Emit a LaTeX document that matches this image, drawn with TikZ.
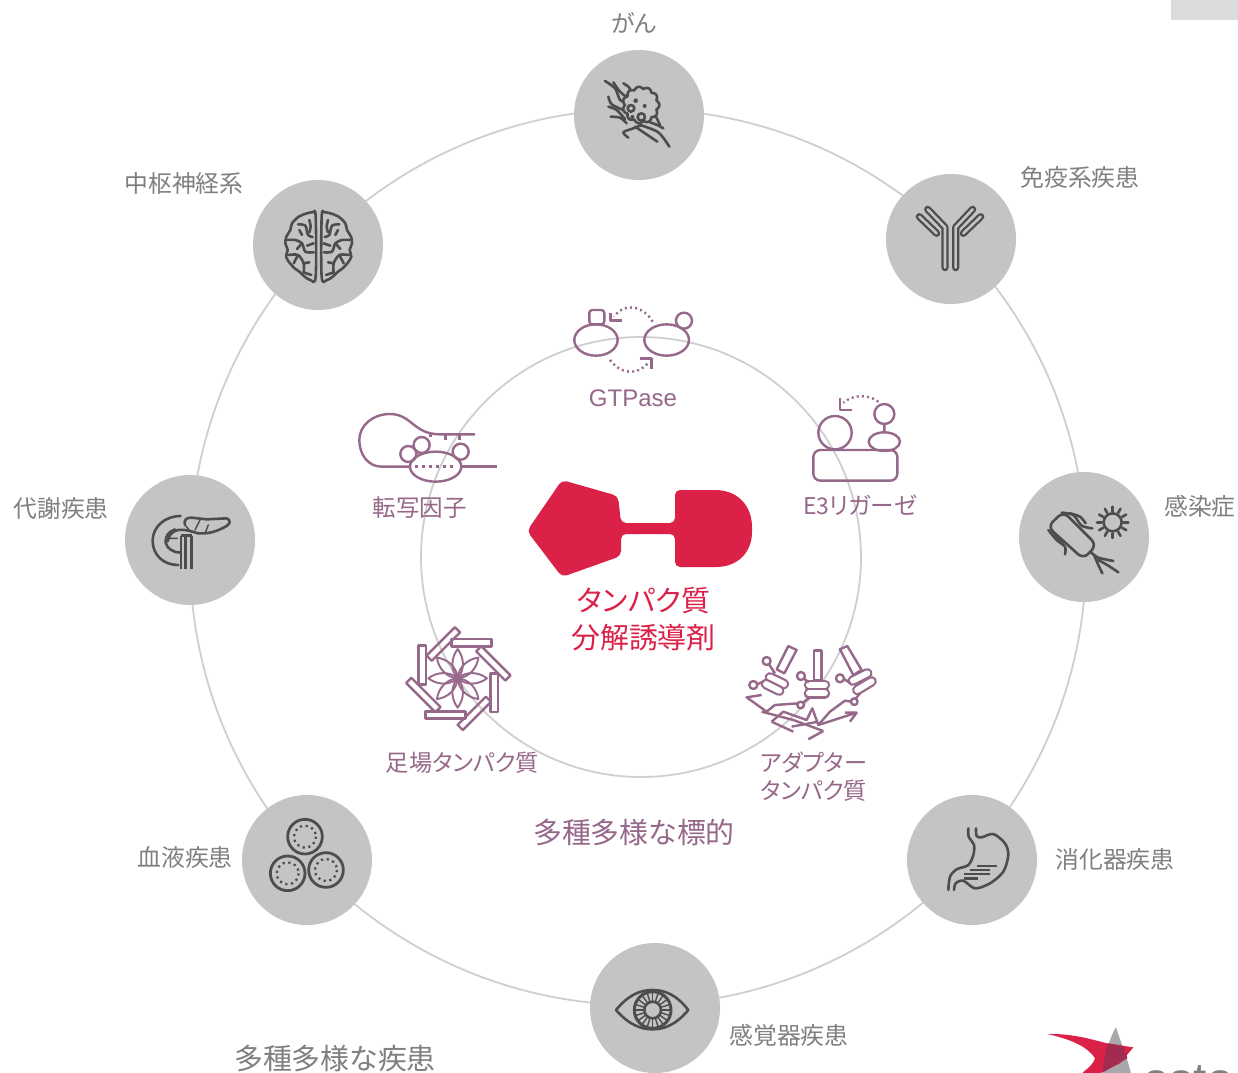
\documentclass[tikz,border=0pt]{standalone}
\usepackage{fontspec}
\setmainfont{Liberation Sans}
\newfontfamily\jp[RawFeature=+palt]{Noto Sans CJK JP}
\definecolor{discgray}{HTML}{C4C4C4}
\definecolor{ring}{HTML}{CFCFCF}
\definecolor{icodark}{HTML}{4D4D4D}
\definecolor{txtgray}{HTML}{808080}
\definecolor{plum}{HTML}{96688A}
\definecolor{crim}{HTML}{DC2148}
\definecolor{logogray}{HTML}{A6A8AB}
\definecolor{logodark}{HTML}{A42B50}
\newcommand{\fs}[1]{\fontsize{#1}{#1}\selectfont}
\newcommand{\tube}[1]{\draw[icodark,line width=7.2pt,line cap=round,line join=round] #1;\draw[discgray,line width=2.6pt,line cap=round,line join=round] #1;}
\newcommand{\capsule}[1]{\draw[plum,line width=10.5pt,line cap=round] #1;\draw[white,line width=6pt,line cap=round] #1;}
\tikzset{
  discnode/.style={circle,fill=discgray,minimum size=130pt,inner sep=0pt},
  zoomat/.style 2 args={xshift=#1pt,yshift=-#2pt,x=0.3333pt,y=-0.3333pt},
  ico/.style={draw=icodark,line width=2.6pt,line cap=round,line join=round},
  tgt/.style={draw=plum,line width=2.4pt,line join=round},
  dots/.style={draw=plum,line width=2.4pt,dash pattern=on 2pt off 3.2pt},
  lab/.style={text=txtgray,font=\jp\fs{23.8},inner sep=0pt},
  tlab/.style={text=plum,font=\jp\fs{23.5},inner sep=0pt,align=center},
  big/.style={font=\jp\fs{28.9},inner sep=0pt},
}
\begin{document}
\begin{tikzpicture}[x=1pt,y=-1pt]
\path[use as bounding box] (0,0) rectangle (1238,1072);
\clip (0,0) rectangle (1238,1072);
\fill[white] (0,0) rectangle (1238,1072);
\fill[black!14] (1171,0) rectangle (1238,20);
% rings
\draw[ring,line width=1.8pt] (638,557) circle (448);
\draw[ring,line width=1.8pt] (641,557) circle (220);
% discs
\node[discnode] (cancer) at (639,115) {};
\node[discnode] (immune) at (951,239) {};
\node[discnode] (infect) at (1084,537) {};
\node[discnode] (digest) at (972,860) {};
\node[discnode] (sense) at (655,1008) {};
\node[discnode] (blood) at (307,860) {};
\node[discnode] (metab) at (190,540) {};
\node[discnode] (cns) at (318,245) {};
% labels
\node[lab] (l1) at (634,23) {がん};
\node[lab] (l2) at (1080,177) {免疫系疾患};
\node[lab] (l3) at (1200,506) {感染症};
\node[lab] (l4) at (1115,859) {消化器疾患};
\node[lab] (l5) at (789,1035) {感覚器疾患};
\node[lab] (l6) at (185,857) {血液疾患};
\node[lab] (l7) at (61,508) {代謝疾患};
\node[lab] (l8) at (184,183) {中枢神経系};
\node[big,text=txtgray] (l9) at (335,1058.5) {多種多様な疾患};
\node[big,text=plum] (t0) at (634,832.5) {多種多様な標的};
\node[text=plum,font=\fs{24},inner sep=0pt] (t1) at (633,398) {GTPase};
\node[tlab] (t2) at (860,505) {{\fs{23}E3}リガーゼ};
\node[tlab] (t3) at (419.5,508) {転写因子};
\node[tlab,font=\jp\fs{23.2}] (t4) at (462.5,763) {足場タンパク質};
\node[tlab,font=\jp\fs{23.2}] (t5) at (813.5,777) {アダプター\\[5pt]タンパク質};
\node[text=crim,font=\jp\fs{28.9},inner sep=0pt,align=center] (drug) at (643.5,619) {タンパク質\\[8pt]分解誘導剤};
% central molecule
\fill[crim,rounded corners=5pt] (527,531) -- (562,480) -- (618,496) -- (621,523) -- (640,523) -- (640,534) -- (621,534) -- (621,556) -- (562,577) -- cycle;
\fill[crim,rounded corners=5pt] (630,523) -- (675,523) -- (675,510) -- (675,490) -- (700,490) -- (700,567) -- (675,567) -- (675,534) -- (630,534) -- cycle;
\fill[crim] (695,490) -- (715,490) .. controls (738,490) and (752,506) .. (752,527) -- (752,532) .. controls (752,552) and (738,567) .. (716,567) -- (695,567) -- cycle;
% cancer icon
\begin{scope}[zoomat={570}{45}]
\draw[ico] plot[smooth] coordinates {(105,108) (135,130) (150,165) (165,172)};
\draw[ico] plot[smooth] coordinates {(130,112) (150,140) (172,158)};
\draw[ico] plot[smooth] coordinates {(160,115) (175,125) (185,140)};
\draw[ico] plot[smooth] coordinates {(115,155) (125,178) (160,195)};
\draw[ico] plot[smooth] coordinates {(115,185) (140,195) (165,222)};
\draw[ico] plot[smooth] coordinates {(122,215) (150,218) (170,235)};
\draw[ico] plot[smooth] coordinates {(175,278) (160,262) (190,250) (215,240)};
\draw[ico] plot[smooth] coordinates {(195,245) (225,265) (262,290)};
\draw[ico] plot[smooth] coordinates {(210,240) (265,262) (298,305)};
\draw[ico] plot[smooth] coordinates {(240,232) (262,240) (280,250)};
\draw[ico] plot[smooth] coordinates {(258,215) (270,240)};
\draw[ico,fill=discgray] plot[domain=0:360,samples=133,smooth] ({213+(48+7*abs(cos(5.5*\x)))*cos(\x)},{180+(48+7*abs(cos(5.5*\x)))*sin(\x)});
\draw[ico] (183,190) circle (10) (214,216) circle (11);
\fill[icodark] (197,167) circle (7) (224,183) circle (6) (187,216) circle (6);
\end{scope}
% antibody icon
\begin{scope}[zoomat={880}{170}]
\tube{(195,293)--(195,172)--(143,118)}
\tube{(227,293)--(227,172)--(278,118)}
\tube{(118,140)--(170,190)}
\tube{(302,140)--(250,190)}
\end{scope}
% bacterium icon
\begin{scope}[zoomat={1015}{465}]
\draw[ico,rounded corners=7pt] (98,185) -- (145,140) -- (245,240) -- (205,282) -- cycle;
\draw[ico] plot[smooth] coordinates {(140,143) (175,150) (200,182) (232,190)};
\draw[ico] plot[smooth] coordinates {(165,145) (195,155) (212,175)};
\draw[ico] plot[smooth] coordinates {(100,195) (125,225) (150,245) (150,268)};
\draw[ico] plot[smooth] coordinates {(112,198) (130,220) (145,232)};
\draw[ico] plot[smooth] coordinates {(228,262) (250,278) (295,288)};
\draw[ico] plot[smooth] coordinates {(238,272) (250,300) (262,325)};
\draw[ico] plot[smooth] coordinates {(250,285) (280,302) (310,322)};
\draw[ico] (293,172) circle (27);
\foreach \a in {0,30,...,330}{\draw[ico] ({293+33*cos(\a)},{172+33*sin(\a)}) -- ({293+47*cos(\a)},{172+47*sin(\a)});}
\end{scope}
% stomach icon
\begin{scope}[zoomat={900}{790}]
\draw[ico] plot[smooth] coordinates {(205,115) (206,140) (222,165) (220,195) (205,225) (170,238) (150,260) (145,300)};
\draw[ico] plot[smooth] coordinates {(228,115) (230,138) (245,142) (280,132) (315,160) (325,195) (310,245) (270,280) (225,295) (190,272) (167,280) (162,300)};
\draw[ico,line cap=butt] (230,228) -- (290,228) (210,240) -- (270,240) (192,252) -- (270,252) (192,265) -- (235,265);
\end{scope}
% eye icon
\begin{scope}[zoomat={585}{940}]
\draw[ico] (93,210) .. controls (130,165) and (165,150) .. (203,150) .. controls (240,150) and (275,165) .. (310,210) .. controls (275,252) and (240,268) .. (203,268) .. controls (165,268) and (130,252) .. (93,210) -- cycle;
\draw[ico,line width=3pt] (203,210) circle (55);
\draw[ico] (203,210) circle (25);
\foreach \a in {0,18,...,342}{\draw[icodark,line width=1.4pt] ({203+25*cos(\a)},{210+25*sin(\a)}) -- ({203+52*cos(\a)},{210+52*sin(\a)});}
\end{scope}
% blood icon
\begin{scope}[zoomat={235}{790}]
\foreach \cx/\cy in {210/140,158/250,273/240}{
  \draw[ico,line width=2.8pt] (\cx,\cy) circle (52);
  \draw[icodark,line width=2.3pt,dash pattern=on 2.2pt off 3.6pt] (\cx,\cy) circle (33);}
\end{scope}
% pancreas icon
\begin{scope}[zoomat={120}{470}]
\draw[ico] (182,138) .. controls (135,138) and (98,170) .. (98,212) .. controls (98,255) and (130,285) .. (175,285);
\draw[ico] (165,178) .. controls (145,185) and (135,200) .. (137,218) .. controls (140,235) and (160,248) .. (182,248);
\draw[ico] (195,165) .. controls (190,150) and (200,142) .. (215,143) -- (260,148) -- (320,145) .. controls (332,150) and (332,160) .. (320,168) .. controls (290,185) and (265,192) .. (235,190) .. controls (200,180) and (170,170) .. (150,195) -- (142,215);
\draw[ico,line width=1.5pt] (195,165) -- (212,185) (240,150) -- (225,180) (265,165) -- (255,190) (150,205) -- (172,205);
\draw[ico,line cap=butt] (183,197) -- (183,298) (197,197) -- (197,298) (215,197) -- (215,298) (183,197) -- (215,197);
\end{scope}
% brain icon
\begin{scope}[zoomat={318.67}{175}]
\foreach \s in {1,-1}{
\begin{scope}[xscale=\s]
\draw[ico] plot[smooth cycle,tension=0.55] coordinates {(9,125) (18,112) (45,118) (60,125) (80,145) (85,165) (97,185) (100,205) (93,225) (98,245) (86,265) (72,280) (58,290) (42,305) (25,315) (9,305)};
\draw[ico] plot[smooth] coordinates {(28,135) (24,155) (28,172)};
\draw[ico] plot[smooth] coordinates {(62,148) (40,152) (32,180) (18,186)};
\draw[ico] (58,165) -- (50,180);
\draw[ico] plot[smooth] coordinates {(95,195) (70,195) (50,205) (40,230) (15,232)};
\draw[ico] (65,222) -- (50,205) (15,205) -- (35,212);
\draw[ico] plot[smooth] coordinates {(92,240) (62,240) (45,265) (45,292)};
\draw[ico] (75,265) -- (62,240) (28,262) -- (45,265) (22,300) -- (45,292);
\end{scope}}
\end{scope}
% GTPase icon
\begin{scope}[zoomat={340}{290}]
\draw[tgt] (768,150) ellipse (65 and 47);
\draw[tgt,rounded corners=3pt] (748,60) rectangle (793,103);
\draw[tgt] (980,150) ellipse (67 and 47);
\draw[tgt] (1032,92) circle (24);
\draw[dots] (938,95) .. controls (915,55) and (860,30) .. (822,80);
\draw[tgt] (812,70) -- (812,92) -- (845,92);
\draw[dots] (810,210) .. controls (840,250) and (890,260) .. (925,218);
\draw[tgt] (900,205) -- (935,205) -- (935,238);
\end{scope}
% transcription factor icon
\begin{scope}[zoomat={340}{290}]
\draw[tgt] (470,530) -- (360,530);
\draw[tgt] (212,530) -- (125,530) .. controls (85,530) and (58,495) .. (58,450) .. controls (58,405) and (100,372) .. (150,372) .. controls (215,372) and (220,433) .. (300,433) -- (405,433);
\draw[tgt] (272,433) -- (272,442) (316,433) -- (316,450) (358,433) -- (358,450);
\draw[tgt] (287,530) ellipse (77 and 45);
\draw[draw=plum,line width=2.4pt,dash pattern=on 3pt off 4pt] (225,530) -- (350,530);
\draw[tgt] (205,492) circle (24) (245,465) circle (24) (362,485) circle (24);
\end{scope}
% E3 icon
\begin{scope}[zoomat={790}{390}]
\draw[tgt,rounded corners=7pt] (70,180) rectangle (322,272);
\draw[tgt] (135,128) circle (50) (283,72) circle (30) (283,102) -- (283,125) (283,155) ellipse (47 and 28);
\draw[dots] (265,35) .. controls (240,15) and (195,10) .. (160,38);
\draw[tgt] (150,25) -- (150,60) -- (185,60);
\end{scope}
% scaffold icon
\begin{scope}[zoomat={380}{610}]
\foreach \a in {0,45,...,315}{\draw[tgt,line width=1.9pt,rotate around={\a:(233,205)}] (233,205) .. controls (258,183) and (295,185) .. (321,205) .. controls (295,225) and (258,227) .. (233,205) -- cycle;}
\fill[plum] (233,205) circle (12);
\foreach \cx/\cy/\w/\h/\a in {275/98/60/11/0,190/102/60/11/45,127/165/11/58/0,130/255/62/11/-45,197/315/60/11/0,283/310/60/11/45,343/248/11/58/0,340/160/62/11/-45}{
  \draw[tgt,rotate around={\a:(\cx,\cy)}] ({\cx-\w},{\cy-\h}) rectangle ({\cx+\w},{\cy+\h});}
\end{scope}
% adapter icon
\begin{scope}[zoomat={380}{610}]
\draw[tgt] (1225,108) -- (1250,120) -- (1213,190) -- (1190,178) -- cycle;
\draw[tgt] (1302,122) rectangle (1325,210);
\draw[tgt] (1380,118) -- (1402,108) -- (1445,180) -- (1420,195) -- cycle;
\capsule{(1170,202)--(1212,222)}
\capsule{(1158,222)--(1198,242)}
\capsule{(1287,225)--(1335,225)}
\capsule{(1287,250)--(1335,250)}
\capsule{(1418,212)--(1462,190)}
\capsule{(1432,240)--(1475,214)}
\draw[tgt] (1160,153) circle (12) (1120,225) circle (12) (1263,198) circle (12) (1262,285) circle (10) (1380,205) circle (12) (1423,275) circle (10);
\draw[tgt] (1167,163) -- (1185,190) (1132,223) -- (1152,213) (1272,206) -- (1287,217) (1269,278) -- (1290,262) (1392,207) -- (1412,220) (1428,265) -- (1440,250);
\draw[tgt] (1145,255) -- (1100,262) -- (1160,305) -- (1185,285) -- (1255,280);
\draw[tgt] (1145,305) -- (1240,330) -- (1330,363);
\draw[tgt] (1175,335) -- (1210,305) -- (1280,330) -- (1297,295) -- (1315,345) -- (1350,305) -- (1395,272) -- (1415,275);
\draw[tgt] (1175,335) -- (1240,365);
\draw[tgt] (1235,350) -- (1315,335);
\draw[tgt] (1285,388) -- (1330,363);
\draw[tgt] (1315,345) -- (1430,308) (1395,308) -- (1430,308) -- (1410,335);
\end{scope}
% logo
\begin{scope}[zoomat={1030}{1010}]
\fill[logogray] (258,52) .. controls (240,80) and (225,130) .. (215,200) -- (305,200) .. controls (295,150) and (270,90) .. (258,52) -- cycle;
\fill[crim] (52,72) .. controls (130,70) and (190,90) .. (232,100) -- (310,112) -- (270,160) -- (215,186) -- (215,200) -- (150,200) -- (160,186) .. controls (180,170) and (190,160) .. (195,145) .. controls (170,105) and (110,85) .. (52,72) -- cycle;
\fill[logodark] (233,100) -- (280,108) .. controls (285,120) and (290,135) .. (292,145) -- (217,188) .. controls (220,155) and (225,130) .. (233,100) -- cycle;
\end{scope}
\node[text=txtgray,font=\fs{48},anchor=base west,inner sep=0pt] (astel) at (1143,1096) {asta};
\end{tikzpicture}
\end{document}
